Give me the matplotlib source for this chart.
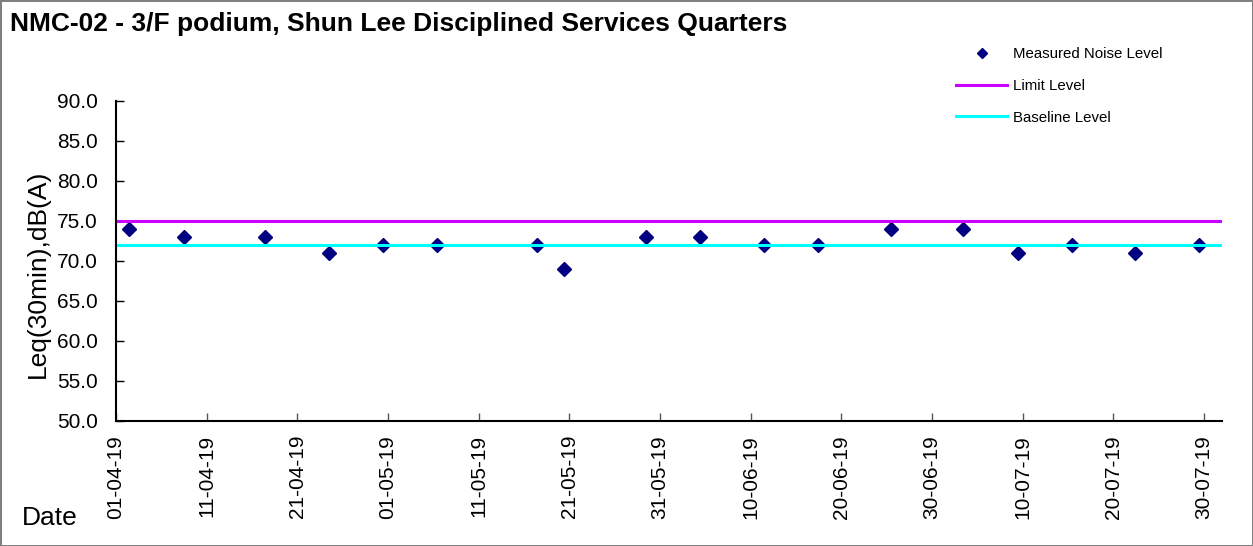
import matplotlib
matplotlib.use("Agg")
import matplotlib.pyplot as plt
import pandas as pd

plt.rcParams['font.family'] = ['Liberation Sans', 'DejaVu Sans']

# measurement dates (approx. mid-day) and levels
dates = ['2019-04-02 11:00', '2019-04-08 11:00', '2019-04-17 11:00', '2019-04-24 11:00',
         '2019-04-30 11:00', '2019-05-06 11:00', '2019-05-17 11:00', '2019-05-20 11:00',
         '2019-05-29 11:00', '2019-06-04 11:00', '2019-06-11 11:00', '2019-06-17 11:00',
         '2019-06-25 11:00', '2019-07-03 11:00', '2019-07-09 11:00', '2019-07-15 11:00',
         '2019-07-22 11:00', '2019-07-29 11:00']
noise = [74, 73, 73, 71, 72, 72, 72, 69, 73, 73, 72, 72, 74, 74, 71, 72, 71, 72]
limit_level = 75
baseline_level = 72
x_start = '2019-04-01'
x_end = '2019-08-01'

dates = pd.to_datetime(dates)
xr = pd.to_datetime([x_start, x_end])

fig = plt.figure(figsize=(12.53, 5.46), dpi=100)
fig.patch.set_edgecolor('#808080')
fig.patch.set_linewidth(2)
ax = fig.add_axes([116/1253, 1 - 421/546, (1222-116)/1253, (421-101)/546])

ax.plot(dates, noise, linestyle='none', marker='D', ms=7, color='#000080',
        label='Measured Noise Level')
ax.plot(xr, [limit_level, limit_level], color='#CC00FF', lw=2.2, label='Limit Level')
ax.plot(xr, [baseline_level, baseline_level], color='#00FFFF', lw=2.2, label='Baseline Level')

ax.set_xlim(xr[0], xr[1])
ax.set_ylim(50, 90)
ax.set_yticks(range(50, 91, 5))
ax.set_yticklabels([f'{v:.1f}' for v in range(50, 91, 5)])
ticks = pd.date_range('2019-04-01', periods=13, freq='10D')
ax.set_xticks(ticks)
ax.set_xticklabels([t.strftime('%d-%m-%y') for t in ticks], rotation=90)
ax.tick_params(axis='both', direction='in', labelsize=15, length=6, width=1)
ax.tick_params(axis='x', colors='#555555', labelcolor='black', pad=10)
ax.tick_params(axis='y', pad=13)
for s in ['top', 'right']:
    ax.spines[s].set_visible(False)
for s in ['left', 'bottom']:
    ax.spines[s].set_linewidth(1.5)

ax.set_ylabel('Leq(30min),dB(A)', fontsize=19)
ax.yaxis.set_label_coords(-0.0597, 0.46)
fig.text(22/1253, 1 - 525/546, 'Date', fontsize=19)
fig.text(10/1253, 1 - 31/546, 'NMC-02 - 3/F podium, Shun Lee Disciplined Services Quarters',
         fontsize=19, fontweight='bold')

fig.legend(loc='upper left', bbox_to_anchor=(949/1253, 1 - 40/546), frameon=False,
           fontsize=10.8, labelspacing=1.17, handlelength=3.4, handletextpad=0.4,
           borderpad=0, markerscale=0.7)

fig.savefig('out.png', dpi=100)
